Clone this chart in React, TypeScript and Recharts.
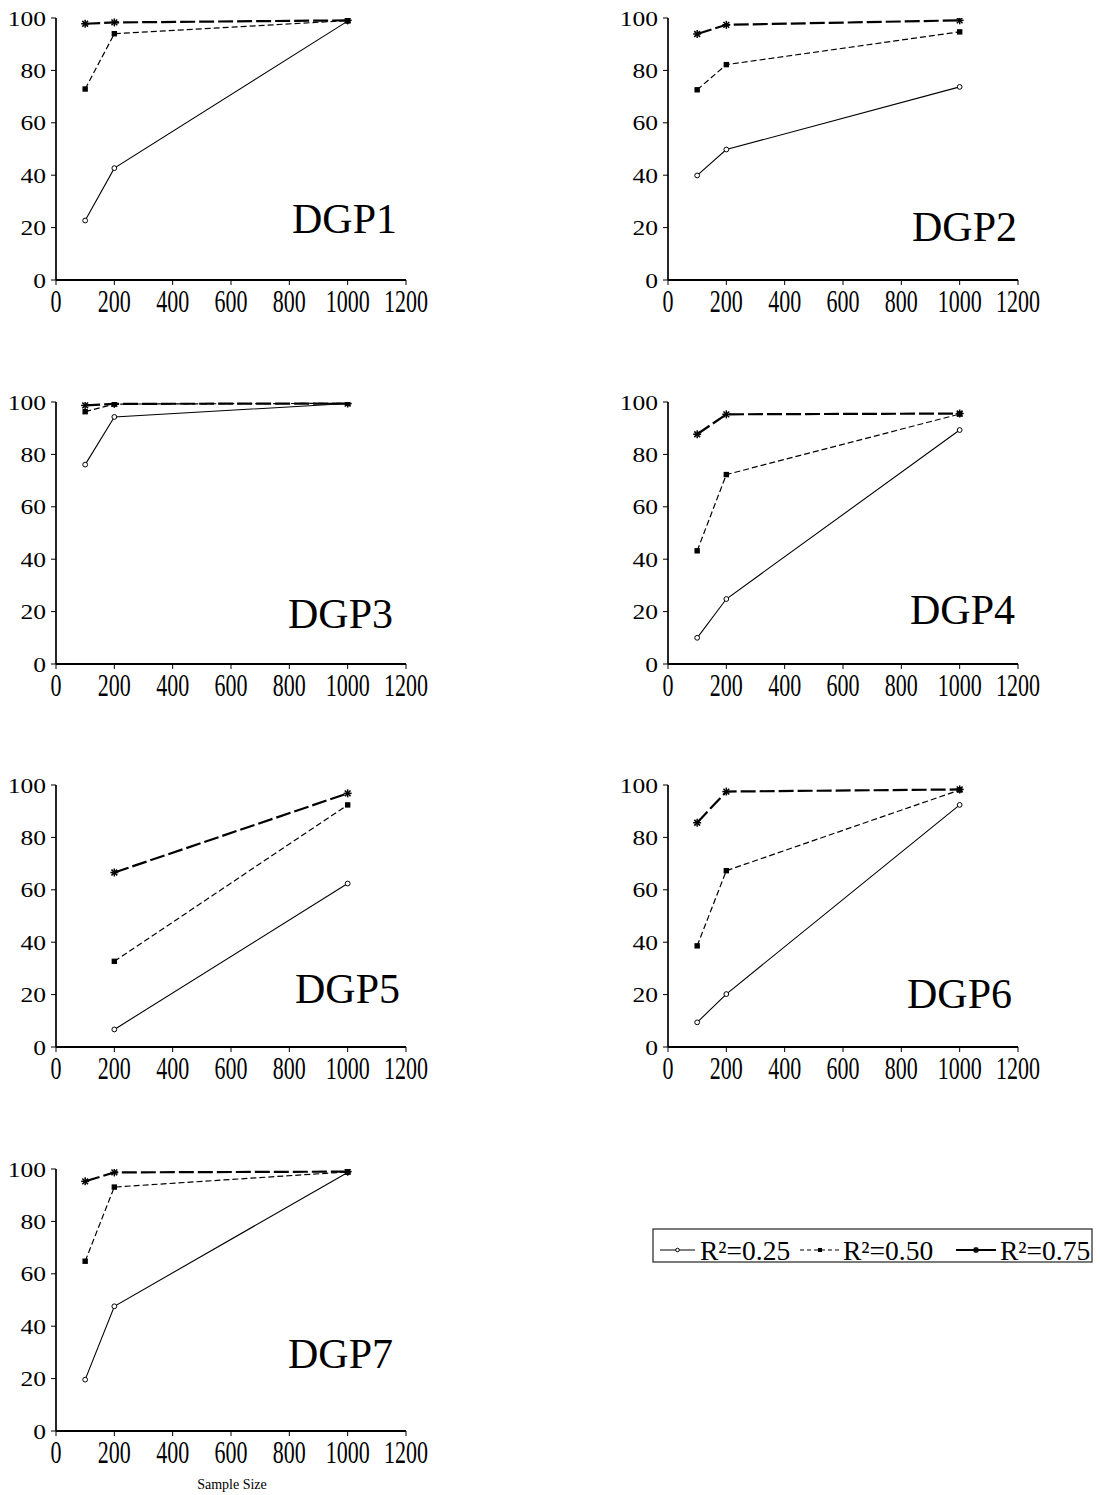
import React from "react";
import { LineChart, Line, XAxis, YAxis, Customized } from "recharts";

// ---------- data ----------
const sampleSizes = [100, 200, 1000];
const panelNames = ["DGP1", "DGP2", "DGP3", "DGP4", "DGP5", "DGP6", "DGP7"];
const xTicks = [0, 200, 400, 600, 800, 1000, 1200];
const yTicks = [0, 20, 40, 60, 80, 100];
const seriesNames = ["R²=0.25", "R²=0.50", "R²=0.75"];

// values per panel, in sampleSizes order (null = not reported)
const valuesR25: (number | null)[][] = [
  [22.7, 42.7, 98.8],
  [39.9, 49.8, 73.7],
  [76.1, 94.3, 99.4],
  [10.0, 24.8, 89.3],
  [null, 6.7, 62.4],
  [9.4, 20.2, 92.4],
  [19.6, 47.6, 98.7],
];
const valuesR50: (number | null)[][] = [
  [72.9, 94.0, 99.0],
  [72.6, 82.2, 94.7],
  [96.3, 99.2, 99.5],
  [43.2, 72.3, 95.4],
  [null, 32.7, 92.4],
  [38.6, 67.3, 98.1],
  [64.8, 93.1, 98.9],
];
const valuesR75: (number | null)[][] = [
  [97.8, 98.3, 99.1],
  [93.9, 97.4, 99.1],
  [98.7, 99.3, 99.4],
  [87.7, 95.3, 95.6],
  [null, 66.6, 96.8],
  [85.6, 97.5, 98.3],
  [95.3, 98.7, 99.0],
];

// ---------- styles / layout ----------
const FONT = '"Liberation Serif", "Times New Roman", Times, serif';

const seriesStyle = [
  { key: "r25", dash: undefined as string | undefined, width: 1.1, marker: "circle" },
  { key: "r50", dash: "6 3", width: 1.2, marker: "square" },
  { key: "r75", dash: "15 4", width: 2.2, marker: "star" },
];

const panelLayout = [
  { left: 56, top: 18.3, labelDx: -9, labelDy: 215 },
  { left: 668.3, top: 18.3, labelDx: -1, labelDy: 223 },
  { left: 56, top: 402, labelDx: -13, labelDy: 226 },
  { left: 668.3, top: 401.5, labelDx: -3, labelDy: 222 },
  { left: 56, top: 785, labelDx: -6, labelDy: 218 },
  { left: 668.3, top: 785, labelDx: -6, labelDy: 223 },
  { left: 56, top: 1169.3, labelDx: -13, labelDy: 199 },
];

const PLOT_W = 350;
const PLOT_H = 262;
const AXIS_W = 60;
const TOP_M = 15;
const RIGHT_M = 30;

function Marker({ kind, cx, cy, s = 1 }: { kind: string; cx: number; cy: number; s?: number }) {
  if (kind === "circle") {
    return <circle cx={cx} cy={cy} r={2.4 * s} fill="#fff" stroke="#000" strokeWidth={1} />;
  }
  if (kind === "square") {
    const h = 2.7 * s;
    return <rect x={cx - h} y={cy - h} width={2 * h} height={2 * h} fill="#000" />;
  }
  const r = 4 * s;
  const d = r * 0.72;
  return (
    <g stroke="#000" strokeWidth={1.5}>
      <line x1={cx - r} y1={cy} x2={cx + r} y2={cy} />
      <line x1={cx} y1={cy - r} x2={cx} y2={cy + r} />
      <line x1={cx - d} y1={cy - d} x2={cx + d} y2={cy + d} />
      <line x1={cx - d} y1={cy + d} x2={cx + d} y2={cy - d} />
    </g>
  );
}

const makeDot = (kind: string) => (props: any) => {
  const { cx, cy, index, value } = props;
  if (cx == null || cy == null || value == null || isNaN(cy)) return <g key={`d${index}`} />;
  return (
    <g key={`d${index}`}>
      <Marker kind={kind} cx={cx} cy={cy} />
    </g>
  );
};

const YTick = (props: any) => {
  const { x, y, payload } = props;
  return (
    <g transform={`translate(${x - 3},${y + 7.5}) scale(1.16,1)`}>
      <text x={0} y={0} textAnchor="end" fontFamily={FONT} fontSize={22} fill="#000">
        {payload.value}
      </text>
    </g>
  );
};

const XTick = (props: any) => {
  const { x, y, payload } = props;
  return (
    <g transform={`translate(${x},${y + 24.5}) scale(1,1.45)`}>
      <text x={0} y={0} textAnchor="middle" fontFamily={FONT} fontSize={22} fill="#000">
        {payload.value}
      </text>
    </g>
  );
};

function Panel({ idx }: { idx: number }) {
  const lay = panelLayout[idx];
  const isLast = idx === panelNames.length - 1;
  const xAxisH = isLast ? 70 : 45;
  const width = AXIS_W + PLOT_W + RIGHT_M;
  const height = TOP_M + PLOT_H + xAxisH;
  const rows = sampleSizes.map((n, i) => ({
    n,
    r25: valuesR25[idx][i],
    r50: valuesR50[idx][i],
    r75: valuesR75[idx][i],
  }));
  return (
    <div style={{ position: "absolute", left: lay.left - AXIS_W, top: lay.top - TOP_M }}>
      <LineChart width={width} height={height} data={rows} margin={{ top: TOP_M, right: RIGHT_M, bottom: 0, left: 0 }}>
        <XAxis
          dataKey="n"
          type="number"
          domain={[0, 1200]}
          ticks={xTicks}
          interval={0}
          height={xAxisH}
          tickSize={5}
          tickMargin={2}
          axisLine={{ stroke: "#000", strokeWidth: 2 }}
          tickLine={{ stroke: "#000", strokeWidth: 1 }}
          tick={<XTick />}
          allowDataOverflow
        />
        <YAxis
          type="number"
          domain={[0, 100]}
          ticks={yTicks}
          interval={0}
          width={AXIS_W}
          tickSize={5}
          tickMargin={2}
          axisLine={{ stroke: "#000", strokeWidth: 1.7 }}
          tickLine={{ stroke: "#000", strokeWidth: 1 }}
          tick={<YTick />}
          allowDataOverflow
        />
        {seriesStyle.map((s, si) => (
          <Line
            key={s.key}
            dataKey={s.key}
            name={seriesNames[si]}
            type="linear"
            stroke="#000"
            strokeWidth={s.width}
            strokeDasharray={s.dash}
            dot={makeDot(s.marker)}
            activeDot={false}
            isAnimationActive={false}
            connectNulls={false}
          />
        ))}
        <Customized
          component={
            <g>
              <text
                x={AXIS_W + PLOT_W + lay.labelDx}
                y={TOP_M + lay.labelDy}
                textAnchor="end"
                fontFamily={FONT}
                fontSize={42}
                fill="#000"
              >
                {panelNames[idx]}
              </text>
              {isLast ? (
                <text
                  x={AXIS_W + PLOT_W / 2 + 1}
                  y={TOP_M + PLOT_H + 57.5}
                  textAnchor="middle"
                  fontFamily={FONT}
                  fontSize={14}
                  fill="#000"
                >
                  Sample Size
                </text>
              ) : null}
            </g>
          }
        />
      </LineChart>
    </div>
  );
}

function LegendBox() {
  const items = [
    { lineX1: 20, lineX2: 55, textX: 60 },
    { lineX1: 160, lineX2: 200, textX: 203 },
    { lineX1: 316, lineX2: 356, textX: 360 },
  ];
  return (
    <svg width={460} height={60} style={{ position: "absolute", left: 640, top: 1220 }}>
      <rect x={13} y={9} width={439} height={33} fill="#fff" stroke="#333" strokeWidth={1.3} />
      {items.map((it, i) => {
        const st = seriesStyle[i];
        const ly = 30;
        return (
          <g key={i}>
            <line
              x1={it.lineX1}
              y1={ly}
              x2={it.lineX2}
              y2={ly}
              stroke="#000"
              strokeWidth={st.width > 2 ? 1.8 : 1}
              strokeDasharray={st.dash ? (i === 1 ? "4 3" : undefined) : undefined}
            />
            <Marker kind={st.marker} cx={(it.lineX1 + it.lineX2) / 2} cy={ly} s={0.75} />
            <text x={it.textX} y={40} fontFamily={FONT} fontSize={27.5} fill="#000">
              {seriesNames[i]}
            </text>
          </g>
        );
      })}
    </svg>
  );
}

export default function App() {
  return (
    <div style={{ position: "absolute", left: 0, top: 0, width: 1100, height: 1495, background: "#fff" }}>
      {panelNames.map((_, i) => (
        <Panel key={i} idx={i} />
      ))}
      <LegendBox />
    </div>
  );
}
